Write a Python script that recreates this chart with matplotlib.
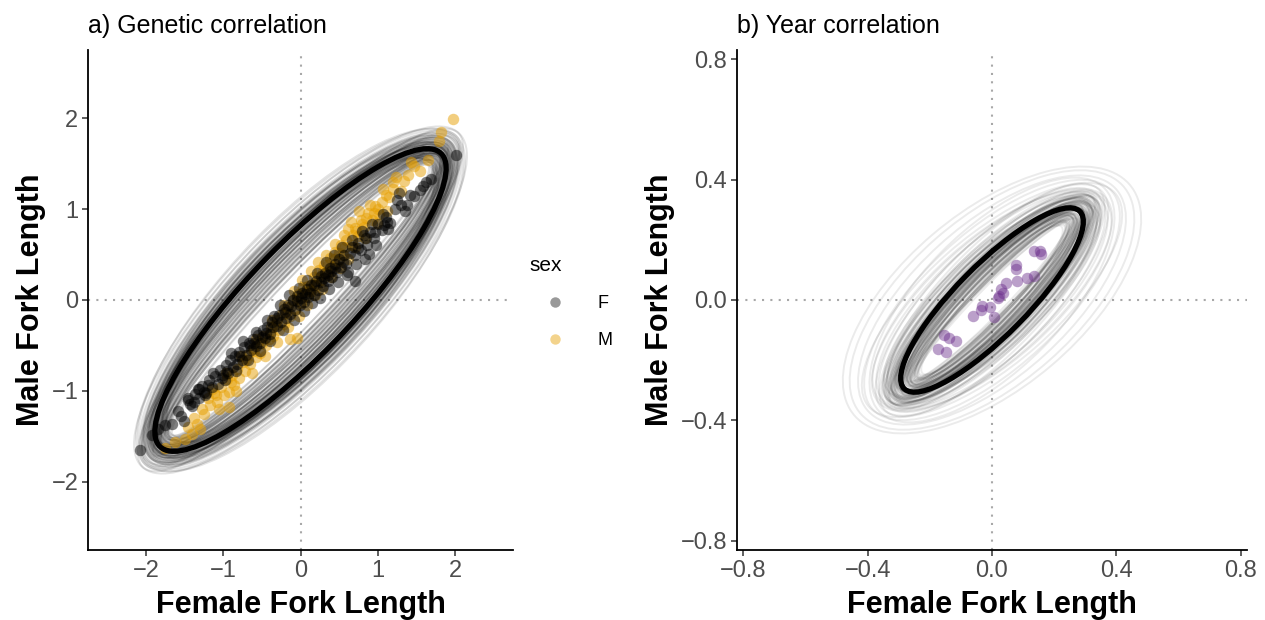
import numpy as np
import matplotlib
matplotlib.use("Agg")
import matplotlib.pyplot as plt
from matplotlib.patches import Ellipse
from matplotlib.lines import Line2D

plt.rcParams['font.family'] = ['Liberation Sans', 'DejaVu Sans']

# ---- panel a: individual points ----
f_x = [-2.08, -1.92, -1.85, -1.75, -1.66, -1.58, -1.51, -1.46, -1.43, -1.40, -1.36, -1.31,
       -1.27, -1.22, -1.18, -1.15, -1.11, -1.07, -1.04, -1.00, -0.97, -0.94, -0.91, -0.88,
       -0.85, -0.82, -0.79, -0.76, -0.73, -0.70, -0.67, -0.64, -0.61, -0.58, -0.55, -0.52,
       -0.49, -0.46, -0.43, -0.40, -0.37, -0.34, -0.31, -0.28, -0.25, -0.22, -0.19, -0.16,
       -0.13, -0.10, -0.07, -0.04, -0.01, 0.02, 0.05, 0.08, 0.10, 0.14, 0.17, 0.20, 0.23,
       0.26, 0.29, 0.32, 0.35, 0.38, 0.41, 0.44, 0.47, 0.50, 0.53, 0.56, 0.59, 0.62, 0.66,
       0.70, 0.70, 0.74, 0.78, 0.82, 0.86, 0.88, 0.90, 0.95, 1.00, 1.05, 1.10, 1.16, 1.22,
       1.28, 1.35, 1.42, 1.47, 1.54, 1.63, 1.69, 2.01,
       -1.20, -0.95, -0.80, -0.65, -0.50, -0.35, -0.30, -0.20, -0.12, -0.05, 0.00, 0.06,
       0.12, 0.18, 0.27, 0.36, 0.45, 0.55, 0.64, 0.75, 0.85, 0.97, 1.12, 1.30, -1.38, -1.45,
       -1.02, -0.60, -0.45, 0.30, 0.40, 1.08, -1.32, -1.25,
       -1.55, -1.33, -1.24, -1.13, -0.98, -0.90, -0.83, -0.74, -0.68, -0.57, -0.53, -0.44,
       -0.39, -0.27, -0.23, -0.15, -0.09, -0.02, 0.04, 0.09, 0.15, 0.21, 0.25, 0.33, 0.37,
       0.43, 0.48, 0.54, 0.60, 0.67, 0.72, 0.80, 0.84, 0.93, 0.98, 1.07, 1.13, 1.25, 1.38,
       1.58]
f_y = [-1.65, -1.49, -1.42, -1.38, -1.36, -1.22, -1.33, -1.10, -1.14, -1.17, -1.03, -1.08,
       -0.95, -1.02, -0.88, -0.96, -0.84, -0.92, -0.77, -0.83, -0.72, -0.80, -0.66, -0.74,
       -0.62, -0.70, -0.57, -0.66, -0.52, -0.60, -0.47, -0.55, -0.43, -0.51, -0.38, -0.47,
       -0.33, -0.42, -0.30, -0.37, -0.24, -0.18, -0.29, -0.17, -0.24, -0.10, -0.20, -0.06,
       -0.15, 0.00, -0.11, 0.04, -0.06, 0.08, -0.02, 0.12, 0.03, 0.16, 0.06, 0.21, 0.11,
       0.26, 0.15, 0.30, 0.21, 0.35, 0.25, 0.40, 0.31, 0.45, 0.36, 0.49, 0.40, 0.31, 0.58,
       0.21, 0.49, 0.63, 0.55, 0.71, 0.60, 0.51, 0.75, 0.68, 0.84, 0.77, 0.91, 0.85, 1.00,
       1.18, 0.98, 1.15, 1.14, 1.21, 1.30, 1.33, 1.59,
       -0.93, -0.78, -0.62, -0.49, -0.41, -0.30, -0.20, -0.13, -0.07, -0.01, 0.02, 0.07,
       0.08, 0.17, 0.20, 0.27, 0.35, 0.42, 0.52, 0.57, 0.68, 0.75, 0.86, 1.05, -1.12, -1.08,
       -0.86, -0.47, -0.36, 0.24, 0.32, 0.82, -0.98, -1.01,
       -1.28, -0.98, -1.05, -0.80, -0.88, -0.58, -0.78, -0.45, -0.66, -0.35, -0.56, -0.22,
       -0.45, -0.05, -0.33, 0.05, -0.22, 0.13, -0.12, 0.22, -0.03, 0.30, 0.02, 0.42, 0.12,
       0.50, 0.20, 0.58, 0.28, 0.66, 0.40, 0.76, 0.45, 0.84, 0.60, 0.95, 0.78, 1.10, 1.05,
       1.25]

m_x = [-1.75, -1.62, -1.50, -1.41, -1.38, -1.34, -1.28, -1.25, -1.20, -1.17, -1.12, -1.08,
       -1.03, -0.99, -0.95, -0.93, -0.89, -0.86, -0.82, -0.79, -0.75, -0.72, -0.68, -0.65,
       -0.61, -0.58, -0.55, -0.52, -0.48, -0.45, -0.41, -0.38, -0.35, -0.31, -0.28, -0.24,
       -0.21, -0.17, -0.14, -0.10, -0.07, -0.03, 0.00, 0.03, 0.07, 0.10, 0.13, 0.17, 0.20,
       0.24, 0.27, 0.31, 0.34, 0.38, 0.41, 0.45, 0.48, 0.52, 0.55, 0.59, 0.62, 0.66, 0.70,
       0.74, 0.78, 0.82, 0.87, 0.92, 0.97, 1.02, 1.05, 1.10, 1.15, 1.24, 1.34, 1.39, 1.47,
       1.65, 1.79, 1.82, 1.97,
       -1.10, -0.90, -0.70, -0.50, -0.33, -0.19, -0.05, 0.05, 0.15, 0.22, 0.29, 0.36, 0.43,
       0.57, 0.68, 0.80, 0.95, 1.20, -0.60, -0.40, 0.12, 0.50, 0.72, 0.85, 1.00, -0.92,
       -0.14, -0.05,
       -1.46, -1.30, -1.15, -1.05, -0.97, -0.84, -0.77, -0.63, -0.57, -0.46, -0.37, -0.30,
       -0.22, -0.16, -0.09, -0.02, 0.02, 0.08, 0.14, 0.19, 0.23, 0.28, 0.33, 0.40, 0.44,
       0.51, 0.56, 0.61, 0.65, 0.71, 0.76, 0.83, 0.90, 0.99, 1.07, 1.12, 1.20, 1.30, 1.43,
       1.55]
m_y = [-1.63, -1.56, -1.53, -1.47, -1.30, -1.36, -1.20, -1.25, -1.08, -1.16, -1.02, -1.12,
       -0.96, -1.05, -0.87, -1.01, -0.82, -0.93, -0.76, -0.86, -0.68, -0.78, -0.61, -0.70,
       -0.53, -0.63, -0.46, -0.58, -0.40, -0.50, -0.43, -0.30, -0.40, -0.22, -0.33, -0.15,
       -0.26, -0.08, -0.18, 0.00, -0.10, 0.07, -0.03, 0.14, 0.04, 0.15, 0.10, 0.25, 0.16,
       0.33, 0.22, 0.38, 0.30, 0.46, 0.36, 0.53, 0.43, 0.60, 0.50, 0.66, 0.78, 0.60, 0.79,
       0.70, 0.88, 0.80, 0.96, 0.88, 1.03, 0.95, 1.08, 1.16, 1.13, 1.35, 1.31, 1.38, 1.47,
       1.54, 1.75, 1.85, 1.99,
       -1.05, -0.90, -0.66, -0.47, -0.28, -0.14, 0.01, 0.09, 0.18, 0.24, 0.31, 0.38, 0.45,
       0.58, 0.71, 0.84, 0.96, 1.22, -0.56, -0.36, 0.12, 0.52, 0.76, 0.90, 1.00, -1.18,
       -0.43, -0.42,
       -1.40, -1.42, -0.98, -1.20, -0.80, -1.00, -0.62, -0.80, -0.43, -0.62, -0.22, -0.46,
       -0.05, -0.30, 0.10, -0.18, 0.22, -0.06, 0.32, 0.05, 0.42, 0.12, 0.50, 0.25, 0.62,
       0.35, 0.72, 0.45, 0.86, 0.58, 0.98, 0.68, 1.05, 0.85, 1.22, 0.98, 1.30, 1.20, 1.52,
       1.42]

# posterior draws of the genetic covariance (sd x, sd y, correlation)
g_sx = [0.77, 0.74, 0.80, 0.72, 0.83, 0.76, 0.79, 0.71, 0.85, 0.75, 0.78, 0.73, 0.81, 0.70,
        0.77, 0.84, 0.74, 0.79, 0.76, 0.82, 0.72, 0.78, 0.75, 0.80, 0.73, 0.86, 0.77, 0.71,
        0.79, 0.74, 0.81, 0.76, 0.83, 0.75, 0.78, 0.72, 0.80, 0.77, 0.74, 0.82, 0.76, 0.79,
        0.73, 0.84, 0.75, 0.78, 0.71, 0.80, 0.77, 0.74,
        0.70, 0.88, 0.75, 0.79, 0.73, 0.81, 0.68, 0.77, 0.84, 0.72, 0.80, 0.76, 0.74, 0.87,
        0.78, 0.71, 0.82, 0.75, 0.79, 0.69, 0.83, 0.77, 0.73, 0.80, 0.76, 0.85, 0.72, 0.78,
        0.74, 0.81, 0.70, 0.79, 0.76, 0.83, 0.73, 0.78, 0.75, 0.86, 0.71, 0.80, 0.77, 0.74,
        0.82, 0.76, 0.79, 0.72, 0.84, 0.78, 0.75, 0.81]
g_sy = [0.68, 0.67, 0.70, 0.64, 0.73, 0.66, 0.71, 0.63, 0.76, 0.67, 0.68, 0.65, 0.72, 0.63,
        0.69, 0.74, 0.66, 0.70, 0.66, 0.73, 0.65, 0.69, 0.65, 0.71, 0.64, 0.77, 0.67, 0.64,
        0.70, 0.66, 0.71, 0.68, 0.73, 0.66, 0.70, 0.64, 0.71, 0.67, 0.65, 0.74, 0.67, 0.69,
        0.64, 0.75, 0.66, 0.70, 0.62, 0.71, 0.68, 0.65,
        0.62, 0.78, 0.66, 0.69, 0.65, 0.72, 0.61, 0.68, 0.75, 0.63, 0.71, 0.67, 0.66, 0.77,
        0.69, 0.62, 0.73, 0.66, 0.70, 0.61, 0.74, 0.68, 0.64, 0.71, 0.67, 0.76, 0.63, 0.69,
        0.65, 0.72, 0.62, 0.70, 0.67, 0.74, 0.64, 0.69, 0.66, 0.77, 0.63, 0.71, 0.68, 0.65,
        0.73, 0.67, 0.70, 0.63, 0.75, 0.69, 0.66, 0.72]
g_rho = [0.87, 0.91, 0.84, 0.93, 0.86, 0.89, 0.82, 0.95, 0.88, 0.90, 0.85, 0.92, 0.87, 0.94,
         0.83, 0.89, 0.91, 0.86, 0.96, 0.88, 0.84, 0.90, 0.93, 0.87, 0.81, 0.89, 0.92, 0.85,
         0.88, 0.94, 0.86, 0.90, 0.83, 0.91, 0.87, 0.95, 0.85, 0.89, 0.92, 0.84, 0.88, 0.93,
         0.86, 0.90, 0.82, 0.97, 0.87, 0.91, 0.85, 0.89,
         0.96, 0.83, 0.92, 0.88, 0.94, 0.85, 0.97, 0.89, 0.84, 0.93, 0.86, 0.90, 0.95, 0.81,
         0.88, 0.96, 0.85, 0.91, 0.87, 0.97, 0.83, 0.89, 0.94, 0.86, 0.90, 0.82, 0.95, 0.88,
         0.93, 0.85, 0.96, 0.87, 0.91, 0.84, 0.94, 0.89, 0.92, 0.80, 0.95, 0.86, 0.90, 0.93,
         0.84, 0.91, 0.88, 0.96, 0.83, 0.89, 0.92, 0.87]
g_mean = (0.77, 0.68, 0.87)

# ---- panel b: year effects ----
yr_x = [0.135, 0.155, 0.158, 0.077, 0.077, 0.135, 0.113, 0.080, 0.045, 0.029, 0.034, 0.021,
        0.019, -0.032, -0.034, -0.005, -0.061, 0.005, -0.155, -0.139, -0.117, -0.173, -0.149]
yr_y = [0.163, 0.163, 0.152, 0.117, 0.103, 0.081, 0.073, 0.064, 0.056, 0.036, 0.023, 0.012,
        0.008, -0.019, -0.032, -0.024, -0.052, -0.057, -0.116, -0.127, -0.135, -0.162, -0.173]

y_sx = [0.121, 0.104, 0.138, 0.112, 0.157, 0.127, 0.093, 0.148, 0.116, 0.176, 0.108, 0.133,
        0.099, 0.142, 0.124, 0.196, 0.113, 0.129, 0.152, 0.102, 0.118, 0.168, 0.137, 0.109,
        0.131, 0.119, 0.161, 0.097, 0.143, 0.126, 0.187, 0.111, 0.134, 0.149, 0.123, 0.101,
        0.139, 0.128, 0.107, 0.171, 0.122, 0.144, 0.096, 0.132, 0.158, 0.117, 0.114, 0.153,
        0.136, 0.125,
        0.119, 0.106, 0.131, 0.124, 0.098, 0.115, 0.135, 0.109, 0.127, 0.141, 0.112, 0.121,
        0.133, 0.103, 0.118, 0.111, 0.129, 0.122, 0.139, 0.107, 0.116, 0.134, 0.101, 0.126,
        0.113, 0.137, 0.120, 0.145, 0.110, 0.123, 0.132, 0.105, 0.117, 0.099, 0.128, 0.124,
        0.114, 0.142, 0.119, 0.130, 0.108, 0.125, 0.102, 0.136, 0.121, 0.111, 0.140, 0.118,
        0.127, 0.106]
y_sy = [0.128, 0.112, 0.141, 0.119, 0.149, 0.124, 0.101, 0.158, 0.127, 0.169, 0.115, 0.138,
        0.106, 0.133, 0.121, 0.181, 0.118, 0.136, 0.147, 0.109, 0.126, 0.163, 0.131, 0.114,
        0.139, 0.123, 0.166, 0.104, 0.144, 0.129, 0.176, 0.117, 0.132, 0.152, 0.125, 0.108,
        0.146, 0.137, 0.116, 0.159, 0.127, 0.141, 0.102, 0.134, 0.151, 0.128, 0.119, 0.157,
        0.139, 0.122,
        0.131, 0.114, 0.135, 0.122, 0.107, 0.127, 0.142, 0.116, 0.124, 0.143, 0.111, 0.129,
        0.134, 0.109, 0.121, 0.118, 0.138, 0.126, 0.144, 0.112, 0.123, 0.136, 0.106, 0.131,
        0.119, 0.141, 0.125, 0.149, 0.115, 0.128, 0.139, 0.110, 0.122, 0.105, 0.133, 0.129,
        0.117, 0.147, 0.124, 0.135, 0.113, 0.130, 0.108, 0.140, 0.126, 0.116, 0.143, 0.123,
        0.132, 0.111]
y_rho = [0.853, 0.902, 0.781, 0.876, 0.718, 0.864, 0.931, 0.797, 0.872, 0.652, 0.893, 0.828,
         0.912, 0.789, 0.858, 0.604, 0.884, 0.817, 0.746, 0.921, 0.839, 0.698, 0.812, 0.887,
         0.848, 0.869, 0.676, 0.938, 0.803, 0.862, 0.623, 0.897, 0.843, 0.758, 0.881, 0.917,
         0.792, 0.851, 0.906, 0.727, 0.874, 0.822, 0.946, 0.859, 0.736, 0.883, 0.909, 0.771,
         0.834, 0.891,
         0.922, 0.948, 0.879, 0.903, 0.957, 0.861, 0.914, 0.937, 0.886, 0.847, 0.966, 0.899,
         0.868, 0.952, 0.928, 0.911, 0.857, 0.894, 0.842, 0.961, 0.918, 0.877, 0.944, 0.905,
         0.933, 0.871, 0.915, 0.826, 0.927, 0.889, 0.866, 0.955, 0.924, 0.969, 0.882, 0.896,
         0.941, 0.819, 0.908, 0.873, 0.949, 0.892, 0.958, 0.854, 0.919, 0.935, 0.838, 0.901,
         0.878, 0.926]
y_mean = (0.12, 0.125, 0.85)

C95 = np.sqrt(-2 * np.log(0.05))  # 95% level for 2 dims


def cov_ellipse(sx, sy, rho, **kw):
    cov = np.array([[sx * sx, rho * sx * sy], [rho * sx * sy, sy * sy]])
    vals, vecs = np.linalg.eigh(cov)
    angle = np.degrees(np.arctan2(vecs[1, 1], vecs[0, 1]))
    return Ellipse((0, 0), 2 * C95 * np.sqrt(vals[1]), 2 * C95 * np.sqrt(vals[0]),
                   angle=angle, fill=False, **kw)


def style_axes(ax, lim, ticks, labels):
    ax.set_xlim(-lim, lim)
    ax.set_ylim(-lim, lim)
    ax.set_xticks(ticks)
    ax.set_yticks(ticks)
    ax.set_xticklabels(labels)
    ax.set_yticklabels(labels)
    for s in ['top', 'right']:
        ax.spines[s].set_visible(False)
    for s in ['left', 'bottom']:
        ax.spines[s].set_linewidth(1.3)
    ax.tick_params(labelsize=17, labelcolor='#4D4D4D', color='#333333', length=4, width=1.1,
                   pad=3)
    ax.axhline(0, color='#A8A8A8', ls=(0, (1, 3)), lw=1.5, zorder=0)
    ax.axvline(0, color='#A8A8A8', ls=(0, (1, 3)), lw=1.5, zorder=0)
    ax.set_xlabel('Female Fork Length', fontsize=22, fontweight='bold', labelpad=6)
    ax.set_ylabel('Male Fork Length', fontsize=22, fontweight='bold', labelpad=4)


fig = plt.figure(figsize=(12.65, 6.2), dpi=100)
ax1 = fig.add_axes([88 / 1265, 70 / 620, 425 / 1265, 500 / 620])
ax2 = fig.add_axes([737 / 1265, 70 / 620, 510 / 1265, 500 / 620])

# panel a
for sx, sy, r in zip(g_sx, g_sy, g_rho):
    ax1.add_patch(cov_ellipse(sx, sy, r, color='black', alpha=0.11, lw=1.4))
ax1.add_patch(cov_ellipse(*g_mean, color='black', lw=3.8, zorder=4))
ax1.scatter(m_x, m_y, s=68, color='#E69F00', alpha=0.5, lw=0, zorder=3)
ax1.scatter(f_x, f_y, s=68, color='black', alpha=0.5, lw=0, zorder=3)
style_axes(ax1, 2.75, [-2, -1, 0, 1, 2], ['\u22122', '\u22121', '0', '1', '2'])
ax1.set_title('a) Genetic correlation', loc='left', fontsize=18, pad=12)

# panel b
for sx, sy, r in zip(y_sx, y_sy, y_rho):
    ax2.add_patch(cov_ellipse(sx, sy, r, color='black', alpha=0.08, lw=1.4))
ax2.add_patch(cov_ellipse(*y_mean, color='black', lw=3.8, zorder=4))
ax2.scatter(yr_x, yr_y, s=68, color='#6A2C8A', alpha=0.45, lw=0, zorder=3)
style_axes(ax2, 0.82, [-0.8, -0.4, 0.0, 0.4, 0.8],
           ['\u22120.8', '\u22120.4', '0.0', '0.4', '0.8'])
ax2.set_ylim(-0.83, 0.83)
ax2.set_title('b) Year correlation', loc='left', fontsize=18, pad=12)

handles = [Line2D([], [], marker='o', ls='', color='black', alpha=0.4, ms=7.5, mew=0),
           Line2D([], [], marker='o', ls='', color='#E69F00', alpha=0.45, ms=7.5, mew=0)]
leg = fig.legend(handles, ['F', 'M'], title='sex', loc='upper left',
                 bbox_to_anchor=(513 / 1265, 1 - 240 / 620), frameon=False,
                 fontsize=13, title_fontsize=15, handlelength=2.8, handletextpad=1.0,
                 labelspacing=1.1)
leg._legend_box.align = 'left'

fig.savefig('out.png', dpi=100)
